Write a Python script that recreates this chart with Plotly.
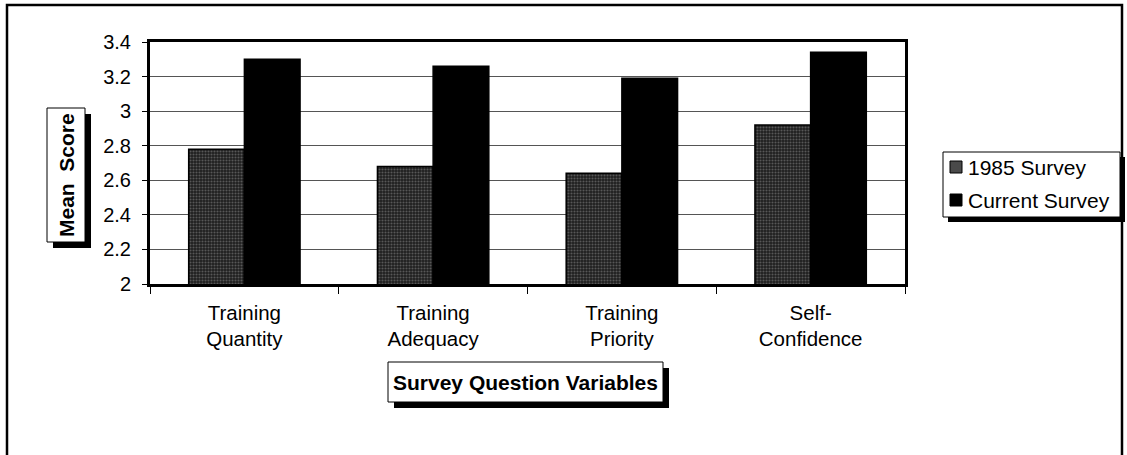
import plotly.graph_objects as go

# ===== data =====
categories = ["Training<br>Quantity", "Training<br>Adequacy", "Training<br>Priority", "Self-<br>Confidence"]
series_names = ["1985 Survey", "Current Survey"]
survey_1985 = [2.78, 2.68, 2.64, 2.92]
survey_current = [3.30, 3.26, 3.19, 3.34]
y_ticks = [2, 2.2, 2.4, 2.6, 2.8, 3, 3.2, 3.4]
y_tick_labels = ["2", "2.2", "2.4", "2.6", "2.8", "3", "3.2", "3.4"]

W, H = 1127, 455
L, R, T, B = 150, 222, 42, 171
font = "Liberation Sans, Arial, sans-serif"


# pixel -> paper coords for the boxes drawn outside the plot area
def px(x):
    return (x - L) / (W - L - R)


def py(y):
    return (H - B - y) / (H - T - B)


fig = go.Figure()
fig.add_trace(go.Bar(
    x=categories, y=survey_1985, name=series_names[0],
    marker=dict(color="#1e1e1e", line=dict(color="black", width=1.5),
                pattern=dict(shape=".", fgcolor="#909090", bgcolor="#1e1e1e",
                             size=3, solidity=0.4)),
))
fig.add_trace(go.Bar(
    x=categories, y=survey_current, name=series_names[1],
    marker=dict(color="black", line=dict(color="black", width=1.5)),
))

fig.update_layout(
    width=W, height=H,
    margin=dict(l=L, r=R, t=T, b=B),
    paper_bgcolor="white", plot_bgcolor="white",
    barmode="group", bargap=0.41, bargroupgap=0,
    showlegend=False,
    font=dict(family=font, color="black", size=20),
)
fig.update_xaxes(
    showline=True, linecolor="black", linewidth=3, mirror=True,
    ticks="outside", tickson="boundaries", ticklen=7, tickcolor="black",
    ticklabelstandoff=8, tickfont=dict(size=20.5), showgrid=False,
)
fig.update_yaxes(
    range=[2, 3.4], tickvals=y_ticks, ticktext=y_tick_labels,
    showline=True, linecolor="black", linewidth=3, mirror=True,
    ticks="outside", ticklen=5, tickcolor="black", ticklabelstandoff=7,
    showgrid=True, gridcolor="#555555", gridwidth=1, zeroline=False,
    tickfont=dict(size=20),
)

shapes = []


def shadow_box(x0, y0, x1, y1, off=6):
    shapes.append(dict(type="rect", xref="paper", yref="paper",
                       x0=px(x0 + off), x1=px(x1 + off), y0=py(y0 + off), y1=py(y1 + off),
                       fillcolor="black", line=dict(width=0), layer="above"))
    shapes.append(dict(type="rect", xref="paper", yref="paper",
                       x0=px(x0), x1=px(x1), y0=py(y0), y1=py(y1),
                       fillcolor="white", line=dict(color="black", width=1), layer="above"))


# outer frame (bottom edge runs off the page)
shapes.append(dict(type="rect", xref="paper", yref="paper",
                   x0=px(7), x1=px(1122), y0=py(5), y1=py(470),
                   fillcolor="rgba(0,0,0,0)", line=dict(color="black", width=2.5)))

# y title box, x title box, legend box
shadow_box(47, 108, 85, 242)
shadow_box(388, 362, 663, 402)
shadow_box(943, 152, 1120, 217, off=5)

# legend swatches
shapes.append(dict(type="rect", xref="paper", yref="paper",
                   x0=px(950), x1=px(962), y0=py(161), y1=py(173),
                   fillcolor="#4a4a4a", line=dict(color="black", width=1), layer="above"))
shapes.append(dict(type="rect", xref="paper", yref="paper",
                   x0=px(950), x1=px(962), y0=py(194), y1=py(206),
                   fillcolor="black", line=dict(color="black", width=1), layer="above"))
fig.update_layout(shapes=shapes)

fig.add_annotation(x=px(66), y=py(175), xref="paper", yref="paper",
                   text="<b>Mean  Score</b>", textangle=-90, showarrow=False,
                   xanchor="center", yanchor="middle", font=dict(size=21))
fig.add_annotation(x=px(525.5), y=py(382), xref="paper", yref="paper",
                   text="<b>Survey Question Variables</b>", showarrow=False,
                   xanchor="center", yanchor="middle", font=dict(size=21))
fig.add_annotation(x=px(966), y=py(167), xref="paper", yref="paper",
                   text=series_names[0], showarrow=False,
                   xanchor="left", yanchor="middle", font=dict(size=21))
fig.add_annotation(x=px(966), y=py(200), xref="paper", yref="paper",
                   text=series_names[1], showarrow=False,
                   xanchor="left", yanchor="middle", font=dict(size=21))

# drop the browser's default 8px body margin so the figure sits at 0,0
fig.write_html("out.html", config={"displayModeBar": False},
               post_script="document.body.style.margin = '0';")
